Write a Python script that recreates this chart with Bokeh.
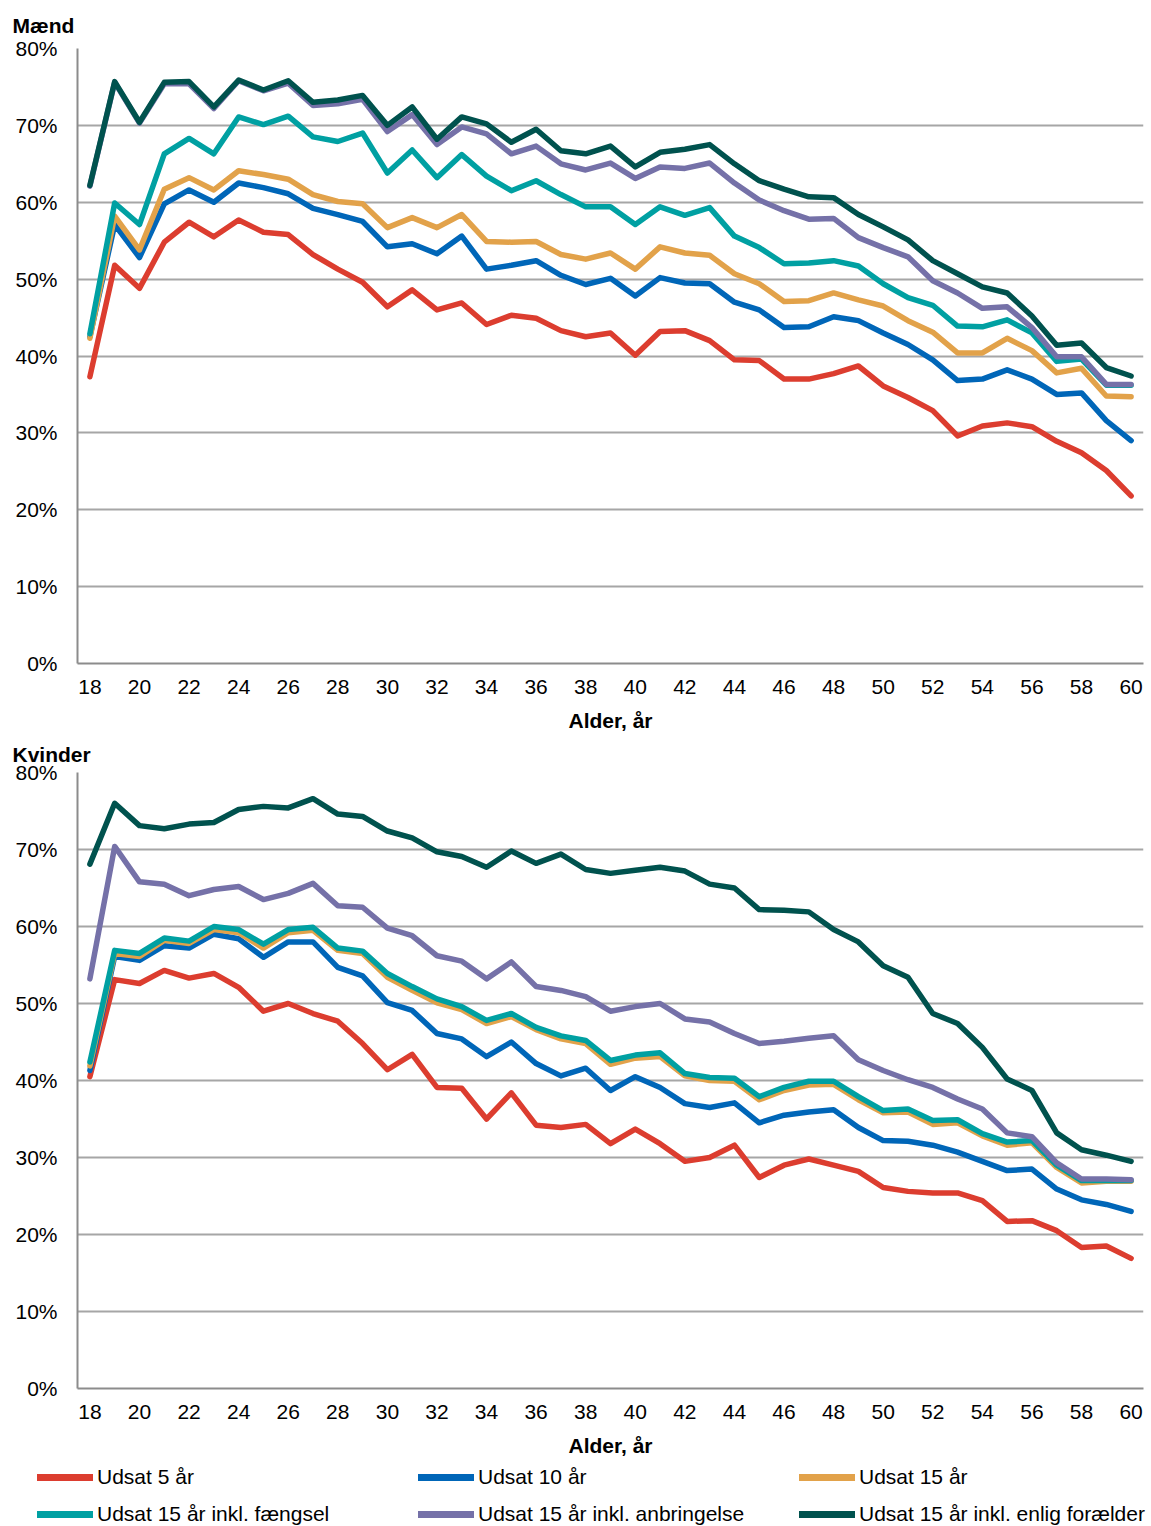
from bokeh.plotting import figure
from bokeh.layouts import column
from bokeh.models import (ColumnDataSource, Range1d, FixedTicker, PrintfTickFormatter,
                          Legend, LegendItem)
from bokeh.embed import file_html
from bokeh.resources import INLINE

# ---------------- data ----------------
ages = list(range(18, 61))
x_ticks = list(range(18, 61, 2))
y_ticks = [0, 10, 20, 30, 40, 50, 60, 70, 80]

series_labels = ["Udsat 5 år", "Udsat 10 år", "Udsat 15 år",
                 "Udsat 15 år inkl. fængsel", "Udsat 15 år inkl. anbringelse",
                 "Udsat 15 år inkl. enlig forælder"]
series_colors = ["#DC3D2F", "#0066B8", "#E2A24A", "#00A0A2", "#7571A8", "#00524E"]

# Mænd
m_5 = [37.3, 51.8, 48.8, 54.8, 57.4, 55.5, 57.7, 56.1, 55.8, 53.2, 51.3, 49.6, 46.4, 48.6, 46.0,
       46.9, 44.1, 45.3, 44.9, 43.3, 42.5, 43.0, 40.1, 43.2, 43.3, 42.0, 39.5, 39.4, 37.0, 37.0,
       37.7, 38.7, 36.1, 34.6, 32.9, 29.6, 30.9, 31.3, 30.8, 28.9, 27.4, 25.1, 21.8]
m_10 = [42.5, 57.1, 52.8, 59.8, 61.6, 60.0, 62.5, 61.9, 61.1, 59.2, 58.4, 57.5, 54.2, 54.6, 53.3,
        55.6, 51.3, 51.8, 52.4, 50.5, 49.3, 50.1, 47.8, 50.2, 49.5, 49.4, 47.0, 46.0, 43.7, 43.8,
        45.1, 44.6, 43.0, 41.5, 39.5, 36.8, 37.0, 38.2, 37.0, 35.0, 35.2, 31.6, 29.0]
m_15 = [42.3, 58.2, 53.8, 61.7, 63.2, 61.6, 64.1, 63.6, 63.0, 61.0, 60.1, 59.8, 56.7, 58.0, 56.7,
        58.4, 54.9, 54.8, 54.9, 53.2, 52.6, 53.4, 51.3, 54.2, 53.4, 53.1, 50.7, 49.4, 47.1, 47.2,
        48.2, 47.3, 46.5, 44.6, 43.1, 40.4, 40.4, 42.3, 40.7, 37.8, 38.4, 34.8, 34.7]
m_15f = [42.9, 59.9, 57.1, 66.3, 68.3, 66.3, 71.1, 70.1, 71.2, 68.5, 67.9, 69.0, 63.8, 66.8, 63.2,
         66.2, 63.4, 61.5, 62.8, 61.0, 59.4, 59.4, 57.1, 59.4, 58.3, 59.3, 55.6, 54.1, 52.0, 52.1,
         52.4, 51.7, 49.4, 47.6, 46.6, 43.9, 43.8, 44.7, 43.0, 39.3, 39.6, 36.2, 36.2]
m_15a = [62.1, 75.6, 70.3, 75.4, 75.4, 72.2, 75.8, 74.5, 75.5, 72.6, 72.8, 73.4, 69.2, 71.4, 67.5,
         69.8, 68.9, 66.3, 67.3, 65.0, 64.2, 65.1, 63.1, 64.6, 64.4, 65.1, 62.5, 60.3, 58.9, 57.8,
         57.9, 55.4, 54.1, 52.9, 49.8, 48.2, 46.2, 46.4, 43.7, 39.9, 39.9, 36.3, 36.3]
m_15e = [62.2, 75.7, 70.4, 75.6, 75.7, 72.4, 75.9, 74.6, 75.8, 73.0, 73.3, 73.9, 70.0, 72.4, 68.2,
         71.1, 70.2, 67.8, 69.5, 66.7, 66.3, 67.3, 64.6, 66.5, 66.9, 67.5, 65.0, 62.8, 61.7, 60.7,
         60.6, 58.4, 56.8, 55.1, 52.4, 50.7, 49.0, 48.2, 45.2, 41.4, 41.7, 38.5, 37.4]

# Kvinder
k_5 = [40.5, 53.1, 52.6, 54.3, 53.3, 53.9, 52.1, 49.0, 50.0, 48.7, 47.7, 44.8, 41.4, 43.4, 39.1,
       39.0, 35.0, 38.4, 34.2, 33.9, 34.3, 31.8, 33.7, 31.8, 29.5, 30.0, 31.6, 27.4, 29.0, 29.8,
       29.0, 28.2, 26.1, 25.6, 25.4, 25.4, 24.4, 21.7, 21.8, 20.5, 18.3, 18.5, 16.9]
k_10 = [41.3, 56.1, 55.6, 57.5, 57.2, 59.0, 58.4, 56.0, 58.0, 58.0, 54.7, 53.6, 50.1, 49.1, 46.1,
        45.4, 43.1, 45.0, 42.2, 40.6, 41.6, 38.7, 40.5, 39.1, 37.0, 36.5, 37.1, 34.5, 35.5, 35.9,
        36.2, 33.9, 32.2, 32.1, 31.6, 30.7, 29.5, 28.3, 28.5, 25.9, 24.5, 23.9, 23.0]
k_15 = [41.9, 56.5, 56.1, 58.2, 57.8, 59.6, 59.2, 57.2, 59.2, 59.5, 56.9, 56.5, 53.4, 51.7, 50.1,
        49.2, 47.4, 48.3, 46.6, 45.4, 44.8, 42.1, 42.9, 43.1, 40.6, 40.0, 39.9, 37.5, 38.7, 39.4,
        39.5, 37.5, 35.8, 35.9, 34.3, 34.5, 32.8, 31.6, 31.9, 28.7, 26.7, 26.9, 26.9]
k_15f = [42.4, 56.9, 56.5, 58.5, 58.1, 60.0, 59.6, 57.7, 59.6, 59.9, 57.2, 56.8, 53.9, 52.2, 50.6,
         49.6, 47.8, 48.7, 46.9, 45.8, 45.2, 42.6, 43.3, 43.6, 40.9, 40.4, 40.3, 37.9, 39.1, 39.9,
         39.9, 37.9, 36.1, 36.3, 34.8, 34.9, 33.1, 32.0, 32.2, 29.0, 27.0, 27.0, 27.0]
k_15a = [53.2, 70.4, 65.8, 65.5, 64.0, 64.8, 65.2, 63.5, 64.3, 65.6, 62.7, 62.5, 59.8, 58.8, 56.2,
         55.5, 53.2, 55.4, 52.2, 51.7, 50.9, 49.0, 49.6, 50.0, 48.0, 47.6, 46.1, 44.8, 45.1, 45.5,
         45.8, 42.7, 41.3, 40.1, 39.1, 37.6, 36.3, 33.2, 32.7, 29.3, 27.2, 27.2, 27.1]
k_15e = [68.1, 76.0, 73.1, 72.7, 73.3, 73.5, 75.2, 75.6, 75.4, 76.6, 74.6, 74.3, 72.4, 71.5, 69.7,
         69.1, 67.7, 69.8, 68.2, 69.4, 67.4, 66.9, 67.3, 67.7, 67.2, 65.5, 65.0, 62.2, 62.1, 61.9,
         59.6, 58.0, 54.9, 53.4, 48.7, 47.4, 44.3, 40.2, 38.7, 33.2, 31.0, 30.3, 29.5]

FONT = "Liberation Sans"
FS = "21px"
GRID = "#A6A6A6"
AXIS = "#8C8C8C"
LINE_W = 5.5
COLS = ["s0", "s1", "s2", "s3", "s4", "s5"]


def make_source(series):
    data = {"age": ages}
    for c, s in zip(COLS, series):
        data[c] = s
    return ColumnDataSource(data)


def make_fig(title, src, height, border_top, border_bottom, title_standoff):
    p = figure(width=1150, height=height, output_backend="svg", toolbar_location=None,
               x_range=Range1d(17.5, 60.5), y_range=Range1d(0, 80),
               min_border_left=77, min_border_right=7,
               min_border_top=border_top, min_border_bottom=border_bottom,
               background_fill_color="white", border_fill_color="white")
    p.outline_line_color = None

    p.title.text = title
    p.title.text_font = FONT
    p.title.text_font_size = FS
    p.title.text_font_style = "bold"
    p.title.text_color = "black"
    p.title.align = "left"
    p.title.vertical_align = "top"
    p.title.offset = -65
    p.title.standoff = title_standoff

    p.xaxis.ticker = FixedTicker(ticks=x_ticks)
    p.yaxis.ticker = FixedTicker(ticks=y_ticks)
    p.yaxis.formatter = PrintfTickFormatter(format="%d%%")
    for ax in (p.xaxis, p.yaxis):
        ax.axis_line_color = AXIS
        ax.axis_line_width = 2
        ax.major_tick_line_color = None
        ax.minor_tick_line_color = None
        ax.major_tick_out = 0
        ax.major_tick_in = 0
        ax.major_label_text_font = FONT
        ax.major_label_text_font_size = FS
        ax.major_label_text_color = "black"
    p.yaxis.major_label_standoff = 20
    p.xaxis.major_label_standoff = 16
    p.xaxis.axis_label = "Alder, år"
    p.xaxis.axis_label_text_font = FONT
    p.xaxis.axis_label_text_font_size = FS
    p.xaxis.axis_label_text_font_style = "bold"
    p.xaxis.axis_label_text_color = "black"
    p.xaxis.axis_label_standoff = 12

    p.xgrid.grid_line_color = None
    p.ygrid.grid_line_color = GRID
    p.ygrid.grid_line_width = 2

    rs = []
    for c, col in zip(COLS, series_colors):
        rs.append(p.line("age", c, source=src, line_color=col, line_width=LINE_W,
                         line_join="round", line_cap="round"))
    return p, rs


src_m = make_source([m_5, m_10, m_15, m_15f, m_15a, m_15e])
src_k = make_source([k_5, k_10, k_15, k_15f, k_15a, k_15e])
p1, _ = make_fig("Mænd", src_m, 736, 48, 73, 20)
p2, _ = make_fig("Kvinder", src_k, 726, 36, 74, 10)

# legend strip: its own small figure; its lines use the Kvinder data but lie
# outside this strip's ranges, so only the legend is shown.
p3 = figure(width=1150, height=64, output_backend="svg", toolbar_location=None,
            x_axis_location=None, y_axis_location=None,
            x_range=Range1d(0, 1), y_range=Range1d(0, 1),
            min_border_left=0, min_border_right=0, min_border_top=0, min_border_bottom=0,
            background_fill_color="white", border_fill_color="white")
p3.outline_line_color = None
p3.xgrid.visible = False
p3.ygrid.visible = False
items = []
for c, lab, col in zip(COLS, series_labels, series_colors):
    r = p3.line("age", c, source=src_k, line_color=col, line_width=7, line_cap="round")
    items.append(LegendItem(label=lab, renderers=[r]))

legend = Legend(items=items, orientation="horizontal", ncols=3, location=(37, 0),
                glyph_width=56, glyph_height=22, label_height=22, label_width=308,
                label_standoff=4, spacing=13, padding=0, margin=0,
                border_line_color=None, background_fill_alpha=0,
                label_text_font=FONT, label_text_font_size=FS, label_text_color="black")
p3.add_layout(legend, "center")

layout = column(column(p1, p2, spacing=0), p3, spacing=0)

open("out.html", "w").write(file_html(layout, INLINE))
